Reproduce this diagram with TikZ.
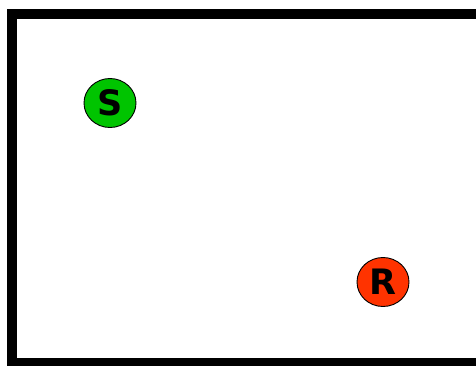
\documentclass[tikz,border=0pt]{standalone}
\usepackage{fontspec}
\newfontfamily\lblfont{DejaVu Sans}
\usetikzlibrary{shapes.geometric}
\definecolor{sgreen}{HTML}{00C400}
\definecolor{rred}{HTML}{FF3300}
\begin{document}
\begin{tikzpicture}[x=1pt,y=-1pt,
  station/.style={ellipse,draw=black,line width=0.9pt,minimum width=52pt,minimum height=49pt,inner sep=0pt,
    font=\lblfont\bfseries\fontsize{35}{35}\selectfont}]
\useasboundingbox (0,0) rectangle (476,365);
\begin{scope}
\clip (0,0) rectangle (476,365);
\draw[line width=10pt] (490,13.5) -- (12,13.5) -- (12,363) -- (490,363);
\end{scope}
\node[station,fill=sgreen] (S) at (110,103) {S};
\node[station,fill=rred] (R) at (383,282) {R};
\end{tikzpicture}
\end{document}
